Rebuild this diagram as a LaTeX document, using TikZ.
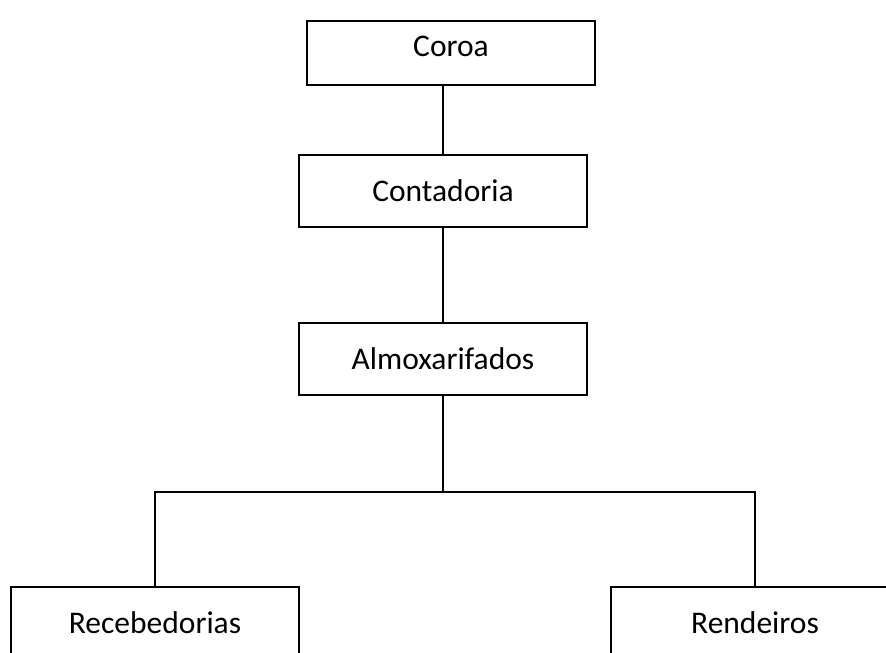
\documentclass[tikz,border=0pt]{standalone}
\usepackage{fontspec}
\setmainfont{Carlito}

\begin{document}
\begin{tikzpicture}[
  x=1pt, y=-1pt,
  unit/.style={
    draw=black,
    fill=white,
    line width=2.6pt,
    minimum width=288pt,
    minimum height=#1,
    inner sep=0pt,
    font=\fontsize{31.5}{38}\selectfont
  },
  unit/.default=72pt,
  top unit/.style={
    unit=64pt,
    text depth=14pt
  },
  link/.style={
    line width=2.2pt,
    draw=black
  }
]
\useasboundingbox (0,0) rectangle (886,653);

\node[top unit] (coroa) at (451,53) {Coroa};
\node[unit] (contadoria) at (443,191) {Contadoria};
\node[unit] (almox) at (443,359) {Almoxarifados};
\node[unit] (receb) at (155,623) {Recebedorias};
\node[unit] (rend) at (755,623) {Rendeiros};

\coordinate (split) at (443,492);

\draw[link] (contadoria.north |- coroa.south) -- (contadoria.north);
\draw[link] (contadoria.south) -- (almox.north);
\draw[link] (almox.south) -- (split);
\draw[link] (receb.north) |- (split) -| (rend.north);

% redraw boxes over the line ends
\node[top unit] at (coroa) {Coroa};
\node[unit] at (contadoria) {Contadoria};
\node[unit] at (almox) {Almoxarifados};
\node[unit] at (receb) {Recebedorias};
\node[unit] at (rend) {Rendeiros};
\end{tikzpicture}
\end{document}
